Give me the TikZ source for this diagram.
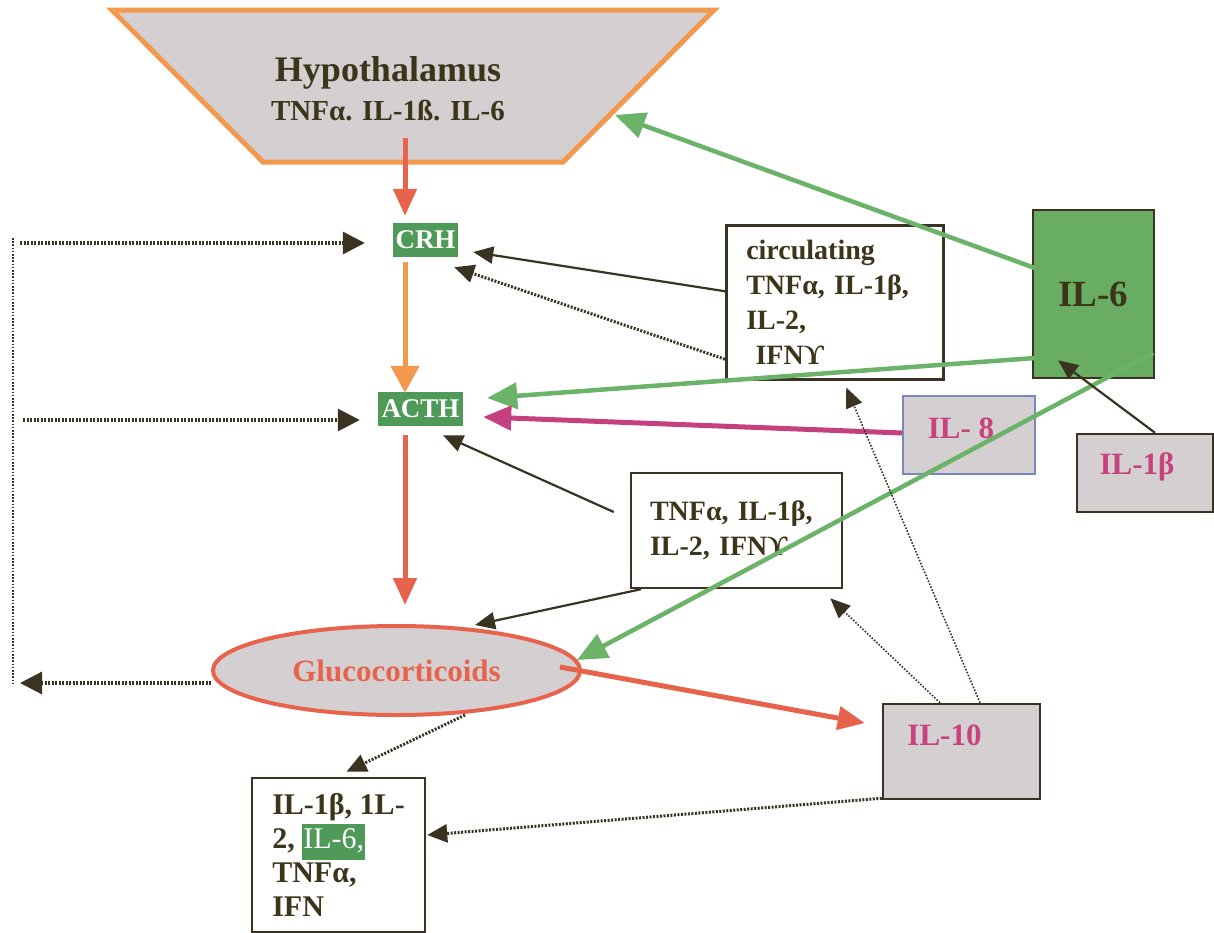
\documentclass[tikz,border=0pt]{standalone}
\usepackage{fontspec}
\setmainfont{Liberation Serif}
\usetikzlibrary{arrows.meta,shapes.geometric}
\definecolor{txt}{HTML}{3D3519}
\definecolor{dark}{HTML}{3B3322}
\definecolor{grayfill}{HTML}{D4D0D2}
\definecolor{orng}{HTML}{F3994F}
\definecolor{redl}{HTML}{E8634C}
\definecolor{gfill}{HTML}{4F9A58}
\definecolor{gbig}{HTML}{69AD62}
\definecolor{gline}{HTML}{6CB36A}
\definecolor{mag}{HTML}{C4407F}
\definecolor{magt}{HTML}{C8427E}
\definecolor{blueb}{HTML}{7A86BE}
\newcommand\fsz[2]{\fontsize{#1pt}{#2pt}\selectfont}
\setlength{\fboxsep}{1pt}
\begin{document}
\begin{tikzpicture}[x=1pt,y=-1pt,
  lbl/.style={inner sep=0pt, text=txt},
  box/.style={draw=dark, line width=2.5pt, inner sep=0pt, text=txt, fill=white},
  graybox/.style={box, fill=grayfill},
  gbox/.style={fill=gfill, text=white, inner sep=0pt, font=\fsz{27}{30}\bfseries},
  darrow/.style={draw=dark, line width=2.2pt, -{Triangle[length=20pt,width=17pt]}},
  ddot/.style={draw=dark, line width=3pt, dash pattern=on 2pt off 1.5pt, -{Triangle[length=20pt,width=18pt]}},
  thindot/.style={draw=dark, line width=1.6pt, dash pattern=on 1.6pt off 1.6pt, -{Triangle[length=20pt,width=17pt]}},
  ldot/.style={draw=dark, line width=3.2pt, dash pattern=on 2pt off 1.5pt, -{Triangle[length=22pt,width=22pt]}},
  redarr/.style={draw=redl, line width=5pt, -{Triangle[length=27pt,width=23pt]}},
  orarr/.style={draw=orng, line width=5pt, -{Triangle[length=27pt,width=28pt]}},
  grarr/.style={draw=gline, line width=4.5pt, -{Triangle[length=30pt,width=26pt]}},
  magarr/.style={draw=mag, line width=5pt, -{Triangle[length=28pt,width=24pt]}}
]
\useasboundingbox (0,0) rectangle (1214,932);
\fill[white] (0,0) rectangle (1214,932);

% Hypothalamus
\filldraw[fill=grayfill, draw=orng, line width=5pt, line join=miter] (112,10) -- (714,10) -- (563,162) -- (263,162) -- cycle;
\node[lbl, font=\fsz{36}{40}\bfseries] (hypo) at (388,73) {Hypothalamus};
\node[lbl, font=\fsz{29}{32}\bfseries] (hypocyt) at (388,110) {TNFα. IL-1ß. IL-6};
\coordinate (hypoR) at (615,115);
\coordinate (hypoB) at (405,138);

% axis nodes
\node[gbox, minimum width=65pt, minimum height=34pt] (crh) at (425.5,240) {CRH};
\node[gbox, minimum width=85pt, minimum height=34pt] (acth) at (420.5,409) {ACTH};
\node[ellipse, draw=redl, line width=4pt, fill=grayfill, minimum width=367pt, minimum height=89pt, inner sep=0pt,
      text=redl, font=\fsz{31}{34}\bfseries] (gluco) at (396.5,670.5) {Glucocorticoids};

% cytokine boxes
\node[box, anchor=north west, minimum width=217pt, minimum height=154pt, text width=177pt, inner xsep=20pt, align=left,
      font=\fsz{28}{35}\bfseries] (circ) at (725,224) {circulating\\TNFα, IL-1β,\\IL-2,\\\ IFNϒ};
\node[box, fill=gbig, minimum width=121pt, minimum height=168pt, font=\fsz{37}{40}\bfseries] (il6) at (1093.5,294) {IL-6};
\node[graybox, draw=blueb, line width=2pt, minimum width=132pt, minimum height=78pt] (il8) at (969,435) {};
\node[lbl, text=magt, font=\fsz{31}{34}\bfseries] (il8t) at (961,428) {IL- 8};
\node[graybox, minimum width=136pt, minimum height=78pt] (il1b) at (1145,473) {};
\node[lbl, text=magt, font=\fsz{31}{34}\bfseries] (il1bt) at (1137,467) {IL-1β};
\node[box, minimum width=211pt, minimum height=115pt, text width=173pt, inner xsep=19pt, align=left,
      font=\fsz{28}{35}\bfseries] (tnf) at (736.5,530.5) {TNFα, IL-1β,\\IL-2, IFNϒ};
\node[graybox, minimum width=157pt, minimum height=95pt] (il10) at (961.5,751.5) {};
\node[lbl, text=magt, font=\fsz{31}{34}\bfseries] (il10t) at (944.5,735) {IL-10};
\node[box, minimum width=173pt, minimum height=154pt, align=left,
      font=\fsz{30}{34}\bfseries] (bot) at (338.5,855) {IL-1β, 1L-\\2, \colorbox{gfill}{\strut\color{white}\mdseries IL-6,}\\TNFα,\\IFN};

% feedback coordinates
\coordinate (fbTop) at (13,238);
\coordinate (fbBot) at (13,686);
\coordinate (fbL) at (20,683);
\coordinate (fbC) at (20,243);
\coordinate (fbA) at (23,420);

% main axis
\draw[redarr] (hypoB) -- ([shift={(-20.5,-7)}]crh.north);
\draw[orarr] ([shift={(-20.5,5)}]crh.south) -- ([shift={(-15.5,1)}]acth.north);
\draw[redarr] ([shift={(-15.5,9)}]acth.south) -- ([shift={(8.5,-19)}]gluco.north);

% green IL-6 arrows
\draw[grarr] ([shift={(3,-26)}]il6.west) -- (hypoR);
\draw[grarr] ([shift={(3,64)}]il6.west) -- ([shift={(24,-11)}]acth.east);
\draw[grarr] ([shift={(-2,59)}]il6.east) -- ([shift={(-5,-10.5)}]gluco.east);

% IL-8
\draw[magarr] ([shift={(0,-2)}]il8.west) -- ([shift={(20,8)}]acth.east);

% IL-1beta -> IL-6
\draw[darrow] ([shift={(10,0)}]il1b.north) -- ([shift={(-35.5,-19)}]il6.south);

% circulating -> CRH
\draw[darrow] ([shift={(0,-11)}]circ.west) -- ([shift={(15,12)}]crh.east);
\draw[ddot] ([shift={(0,57)}]circ.west) -- ([shift={(-4,10)}]crh.south east);

% TNF box arrows
\draw[darrow] ([shift={(-16,-18.5)}]tnf.west) -- ([shift={(22.5,9)}]acth.south);
\draw[darrow] ([shift={(11,0)}]tnf.south west) -- ([shift={(78.5,1)}]gluco.north);

% glucocorticoids -> IL-10
\draw[redarr] ([shift={(-22,-3.5)}]gluco.east) -- ([shift={(-17,-28.5)}]il10.west);

% IL-10 arrows
\draw[thindot] ([shift={(-21.5,0)}]il10.north) -- ([shift={(-13,9)}]tnf.south east);
\draw[thindot] ([shift={(18.5,0)}]il10.north) -- ([shift={(11.5,7)}]circ.south);
\draw[ddot] ([shift={(0,-2)}]il10.south west) -- ([shift={(1,-20)}]bot.east);

% glucocorticoids -> bottom box
\draw[ddot] ([shift={(68.5,-2)}]gluco.south) -- ([shift={(8,-5)}]bot.north);

% feedback
\draw[ldot] ([shift={(0,12.5)}]gluco.west) -- (fbL);
\draw[draw=dark, line width=2pt, dash pattern=on 1.6pt off 1.6pt] (fbTop) -- (fbBot);
\draw[ldot] (fbC) -- ([shift={(-28,3)}]crh.west);
\draw[ldot] (fbA) -- ([shift={(-18,11)}]acth.west);
\end{tikzpicture}
\end{document}
